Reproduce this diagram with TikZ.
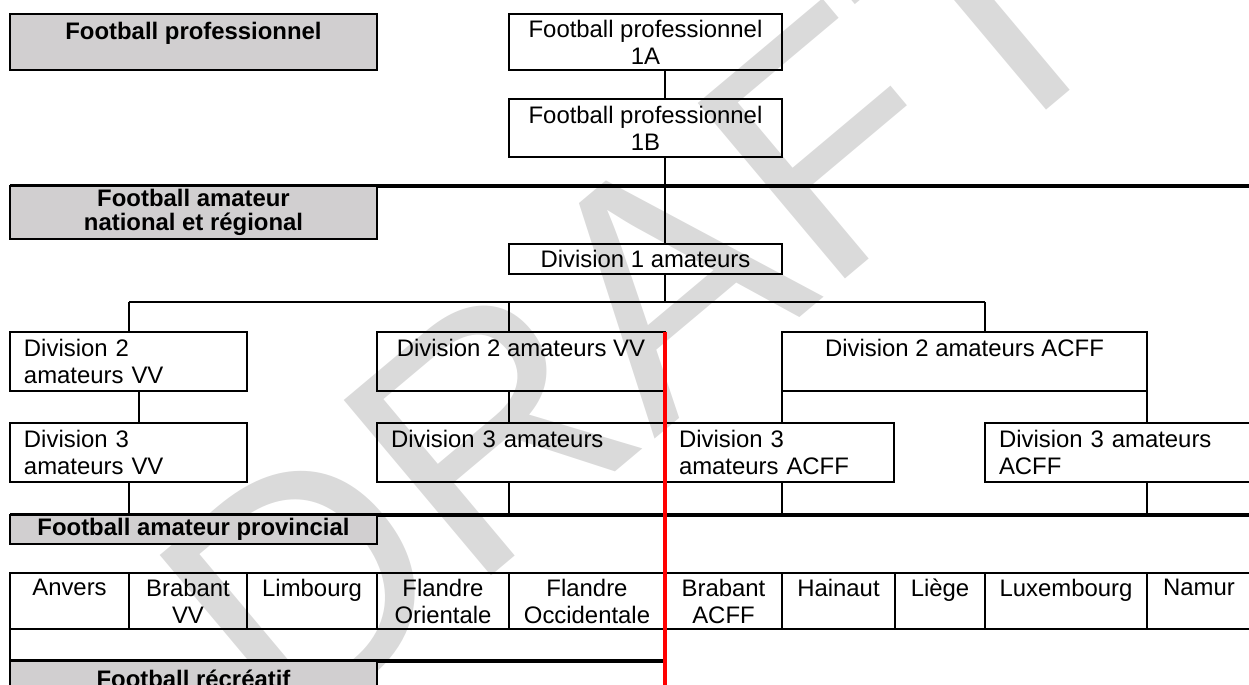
\documentclass[tikz,border=0pt]{standalone}
\usepackage{fontspec}
\setmainfont{Liberation Sans}
\usetikzlibrary{positioning}
\definecolor{hdrgray}{RGB}{209,207,208}
\definecolor{wmgray}{RGB}{218,218,218}
\definecolor{cutred}{RGB}{255,0,0}
\tikzset{
  box/.style={draw=black, line width=1.25pt, inner xsep=0.28cm, inner ysep=0pt,
    outer sep=0pt, anchor=north west, font=\fontsize{13.6}{15.4}\selectfont},
  hdr/.style={box, fill=hdrgray, align=center,
    font=\fontsize{13.6}{13.2}\selectfont\bfseries},
  mid/.style={box, align=center},
  lft/.style={box, align=left},
  cell/.style={box, inner xsep=2pt, align=center},
  wd/.style={minimum width={#1*0.02cm}},
  tw/.style={text width={(#1-28)*0.02cm}},
  ht/.style={minimum height={#1*0.02cm}},
  link/.style={line width=1.25pt},
  rule/.style={line width=2.4pt},
  cut/.style={line width=1.9pt, draw=cutred}
}

\begin{document}
\begin{tikzpicture}[x=0.02cm, y=-0.02cm]
  \useasboundingbox (0,0) rectangle (1249,685);
  \clip (0,0) rectangle (1249,685);
  % watermark
  \node[rotate=40, inner sep=0pt, text=wmgray, font=\fontsize{189.5}{189.5}\selectfont] (wm) at (638,304) {DRAFT};
  \coordinate (edge) at (1270,0);
  \coordinate (bottom) at (0,700);
  % football professionnel
  \node[hdr, wd=367, ht=56] (hpro) at (10,14) {Football professionnel\\\mbox{}};
  \node[mid, wd=273, ht=56] (fp1a) at (509,14) {Football professionnel\\1A};
  \node[mid, wd=273, ht=58] (fp1b) at (509,99) {Football professionnel\\1B};
  \coordinate (axis) at (665,0);
  \draw[link] (fp1a.south -| axis) -- (fp1b.north -| axis);
  % amateur national et regional
  \draw[rule] (10,186) coordinate (nat) -- (nat -| edge);
  \node[hdr, wd=367, ht=53, text depth=3pt] (hnat) at (nat) {Football amateur\\national et régional};
  \node[mid, wd=273, ht=30] (div1) at (509,244) {Division 1 amateurs};
  \draw[link] (fp1b.south -| axis) -- (div1.north -| axis);
  \node[lft, tw=237, ht=59] (d2vvL) at (10,332) {Division 2\\amateurs VV};
  \node[mid, wd=288, ht=59] (d2vvM) at (377,332) {Division 2 amateurs VV\\\mbox{}};
  \node[mid, wd=365, ht=59] (d2acff) at (782,332) {Division 2 amateurs ACFF\\\mbox{}};
  \node[lft, tw=237, ht=59] (d3vvL) at (10,423) {Division 3\\amateurs VV};
  \node[lft, tw=288, ht=59] (d3am) at (377,423) {Division 3 amateurs\\\mbox{}};
  \node[lft, tw=229, ht=59] (d3acffM) at (665,423) {Division 3\\amateurs ACFF};
  \node[lft, tw=300, ht=59] (d3acffR) at (985,423) {Division 3 amateurs\\ACFF};
  % branches
  \coordinate (busL) at (129,302);
  \coordinate (busR) at (d3acffR.west |- busL);
  \draw[link] (div1.south -| axis) -- (busL -| axis);
  \draw[link] (busL) -- (busR);
  \draw[link] (busL) -- (busL |- d2vvL.north);
  \draw[link] (busL -| div1.west) -- (d2vvM.north -| div1.west);
  \draw[link] (busR) -- (busR |- d2acff.north);
  \draw[link] (d2vvL.south -| 139,0) -- (d3vvL.north -| 139,0);
  \draw[link] (d2vvM.south -| div1.west) -- (d3am.north -| div1.west);
  \draw[link] (d2acff.south west) -- (d2acff.south west |- d3acffM.north);
  \draw[link] (d2acff.south east) -- (d2acff.south east |- d3acffR.north);
  % amateur provincial
  \draw[rule] (10,515) coordinate (prv) -- (prv -| edge);
  \node[hdr, wd=367, ht=29] (hprov) at (prv) {Football amateur provincial};
  \draw[link] (d3vvL.south -| busL) -- (prv -| busL);
  \draw[link] (d3am.south -| div1.west) -- (prv -| div1.west);
  \draw[link] (d3acffM.south -| d2acff.west) -- (prv -| d2acff.west);
  \draw[link] (d3acffR.south -| d2acff.east) -- (prv -| d2acff.east);
  \foreach \x/\w/\lbl [count=\i] in {10/119/{Anvers\\\mbox{}}, 129/118/{Brabant\\VV},
      247/130/{Limbourg\\\mbox{}}, 377/132/{Flandre\\Orientale}, 509/156/{Flandre\\Occidentale},
      665/117/{Brabant\\ACFF}, 782/113/{Hainaut\\\mbox{}}, 895/90/{Liège\\\mbox{}},
      985/162/{Luxembourg\\\mbox{}}, 1147/104/{Namur\\\mbox{}}}
    \node[cell, wd=\w, ht=56] (prov\i) at (\x,573) {\lbl};
  % football recreatif
  \draw[rule] (10,661) coordinate (rec) -- (rec -| axis);
  \draw[link] (prov1.south west) -- (rec);
  \node[hdr, wd=367, ht=36] (hrec) at (rec) {Football récréatif};
  \draw[cut] (d2vvM.north east) -- (d2vvM.north east |- bottom);
\end{tikzpicture}
\end{document}
